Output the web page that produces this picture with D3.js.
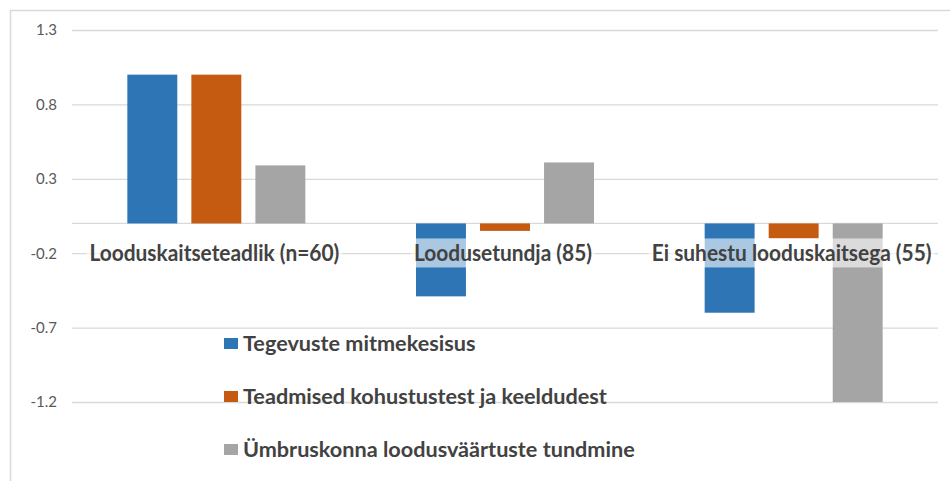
<!DOCTYPE html>
<html>
<head>
<meta charset="utf-8">
<script src="https://cdn.jsdelivr.net/npm/d3@7"></script>
<style>
  body { margin: 0; background: #fff; }
  text { font-family: Lato, "Open Sans", sans-serif; }
</style>
</head>
<body>
<div id="chart"></div>
<script>
// Chart data
const categories = ["Looduskaitseteadlik (n=60)", "Loodusetundja (85)", "Ei suhestu looduskaitsega (55)"];
const seriesNames = ["Tegevuste mitmekesisus", "Teadmised kohustustest ja keeldudest", "Ümbruskonna loodusväärtuste tundmine"];
const tegevused = [1.0, -0.49, -0.6];
const teadmised = [1.0, -0.05, -0.1];
const loodusvaartused = [0.39, 0.41, -1.2];
const tickValues = [1.3, 0.8, 0.3, -0.2, -0.7, -1.2];

const seriesValues = [tegevused, teadmised, loodusvaartused];
const colors = ["#2e75b6", "#c55a11", "#a5a5a5"];

const width = 950;
const height = 481;
const margin = { top: 30, right: 12, bottom: 79, left: 72 };

const svg = d3.select("#chart")
  .append("svg")
  .attr("width", width)
  .attr("height", height);

// outer frame (only top and left edges visible)
svg.append("path")
  .attr("d", `M10.5,${height} V10.5 H${width}`)
  .attr("fill", "none")
  .attr("stroke", "#d9d9d9")
  .attr("stroke-width", 1.5);

const x0 = d3.scaleBand()
  .domain(categories)
  .range([margin.left, width - margin.right]);

const x1 = d3.scaleBand()
  .domain(seriesNames)
  .range([-89, 89])
  .paddingInner(0.22);

const y = d3.scaleLinear()
  .domain([-1.2, 1.3])
  .range([height - margin.bottom, margin.top]);

// squeeze text horizontally by a factor (the picture's font is narrower)
function squeezeText(sel, factor) {
  sel.each(function () {
    d3.select(this)
      .attr("textLength", this.getComputedTextLength() * factor)
      .attr("lengthAdjust", "spacingAndGlyphs");
  });
}

// gridlines and tick labels
const yAxis = svg.append("g")
  .attr("transform", `translate(${margin.left},0)`)
  .call(d3.axisLeft(y)
    .tickValues(tickValues)
    .tickSize(-(width - margin.left - margin.right))
    .tickPadding(15)
    .tickFormat(d => d.toFixed(1)));
yAxis.select(".domain").remove();
yAxis.selectAll(".tick line")
  .attr("stroke", "#d9d9d9")
  .attr("stroke-width", 1.3);
yAxis.selectAll(".tick text")
  .attr("fill", "#595959")
  .style("font-size", "15px");

// zero axis line
svg.append("line")
  .attr("x1", margin.left)
  .attr("x2", width - margin.right)
  .attr("y1", y(0))
  .attr("y2", y(0))
  .attr("stroke", "#d9d9d9")
  .attr("stroke-width", 1.3);

// bars
const rows = categories.map((c, i) => ({
  category: c,
  values: seriesNames.map((s, j) => ({ series: s, value: seriesValues[j][i], color: colors[j] }))
}));

svg.append("g")
  .selectAll("g")
  .data(rows)
  .join("g")
  .attr("transform", d => `translate(${x0(d.category) + x0.bandwidth() / 2},0)`)
  .selectAll("rect")
  .data(d => d.values)
  .join("rect")
  .attr("x", d => x1(d.series))
  .attr("width", x1.bandwidth())
  .attr("y", d => y(Math.max(0, d.value)))
  .attr("height", d => Math.abs(y(d.value) - y(0)))
  .attr("fill", d => d.color);

// category labels with semi-transparent background
const catLabels = svg.append("g")
  .selectAll("g")
  .data(categories)
  .join("g")
  .attr("transform", d => `translate(${x0(d) + x0.bandwidth() / 2 - 2},${y(0) + 30})`);

const catText = catLabels.append("text")
  .attr("text-anchor", "middle")
  .attr("dy", "0.35em")
  .attr("fill", "#424242")
  .style("font-size", "22px")
  .style("font-weight", "bold")
  .text(d => d)
  .call(squeezeText, 0.95);

catText.each(function () {
  const w = +d3.select(this).attr("textLength");
  d3.select(this.parentNode).insert("rect", "text")
    .attr("x", -w / 2 - 3)
    .attr("y", -15)
    .attr("width", w + 6)
    .attr("height", 29)
    .attr("fill", "#fff")
    .attr("fill-opacity", 0.6);
});

// legend
const legend = svg.append("g")
  .selectAll("g")
  .data(seriesNames)
  .join("g")
  .attr("transform", (d, i) => `translate(224,${344 + i * 53})`);

legend.append("rect")
  .attr("y", -6)
  .attr("width", 14)
  .attr("height", 11)
  .attr("fill", (d, i) => colors[i]);

legend.append("text")
  .attr("x", 19)
  .attr("dy", "0.35em")
  .attr("fill", "#424242")
  .style("font-size", "21px")
  .style("font-weight", "bold")
  .text(d => d)
  .call(squeezeText, 1.03);
</script>
</body>
</html>
